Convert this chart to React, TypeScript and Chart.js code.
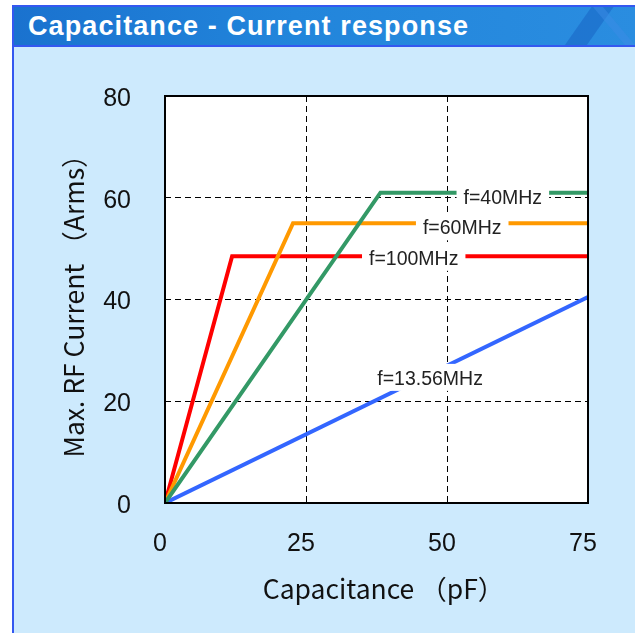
import React, { useEffect, useRef } from "react";
import { Chart, registerables } from "chart.js";

Chart.register(...registerables);

// ---- data ----
const seriesNames = ["f=40MHz", "f=60MHz", "f=100MHz", "f=13.56MHz"];
const xTicks = [0, 25, 50, 75];
const yTicks = [0, 20, 40, 60, 80];
const xTitle = "Capacitance （pF）";
const yTitle = "Max. RF Current （Arms）";
// capacitance (pF) / current (Arms) break points per series
const cap40 = [0, 38.2, 75];
const cur40 = [0, 61, 61];
const cap60 = [0, 22.7, 75];
const cur60 = [0, 55, 55];
const cap100 = [0, 11.9, 75];
const cur100 = [0, 48.5, 48.5];
const cap1356 = [0, 75];
const cur1356 = [0, 40.5];
// label anchors in data units (capacitance, current)
const labelCap = [59.9, 52.7, 44.1, 47.0];
const labelCur = [59.8, 53.9, 47.9, 24.3];

const colors = ["#339966", "#ff9900", "#ff0000", "#3366ff"];

function toPts(xs: number[], ys: number[]) {
  return xs.map((x, i) => ({ x, y: ys[i] }));
}

const chartBgPlugin = {
  id: "chartBg",
  beforeDraw(chart: any) {
    const { ctx, chartArea } = chart;
    ctx.save();
    ctx.fillStyle = "#ffffff";
    ctx.fillRect(chartArea.left, chartArea.top, chartArea.right - chartArea.left, chartArea.bottom - chartArea.top);
    ctx.restore();
  },
  afterDatasetsDraw(chart: any) {
    const { ctx, chartArea, scales } = chart;
    ctx.save();
    ctx.strokeStyle = "#000000";
    ctx.lineWidth = 2;
    ctx.strokeRect(chartArea.left, chartArea.top, chartArea.right - chartArea.left, chartArea.bottom - chartArea.top);
    // series labels
    ctx.font = '19.5px "Liberation Sans", Arial, sans-serif';
    ctx.textAlign = "center";
    ctx.textBaseline = "middle";
    seriesNames.forEach((name, i) => {
      const px = scales.x.getPixelForValue(labelCap[i]);
      const py = scales.y.getPixelForValue(labelCur[i]);
      const w = ctx.measureText(name).width + 14;
      const h = 27;
      ctx.fillStyle = "#ffffff";
      ctx.fillRect(px - w / 2, py - h / 2 - 2, w, h);
      ctx.fillStyle = "#222222";
      ctx.fillText(name, px, py);
    });
    // x axis title
    ctx.font = '26.5px "Noto Sans CJK JP", sans-serif';
    ctx.fillStyle = "#111111";
    ctx.fillText(xTitle, (chartArea.left + chartArea.right) / 2 + 7, chartArea.bottom + 86);
    ctx.restore();
  },
};

function ChartView() {
  const ref = useRef<HTMLCanvasElement | null>(null);
  useEffect(() => {
    if (!ref.current) return;
    const series = [
      toPts(cap40, cur40),
      toPts(cap60, cur60),
      toPts(cap100, cur100),
      toPts(cap1356, cur1356),
    ];
    const chart = new Chart(ref.current, {
      type: "line",
      data: {
        datasets: series.map((d, i) => ({
          label: seriesNames[i],
          data: d,
          borderColor: colors[i],
          backgroundColor: colors[i],
          borderWidth: 4,
          pointRadius: 0,
          tension: 0,
          fill: false,
        })),
      },
      options: {
        animation: false,
        responsive: true,
        maintainAspectRatio: false,
        layout: { padding: { left: 0, top: 45, right: 47, bottom: 0 } },
        plugins: { legend: { display: false }, tooltip: { enabled: false } },
        scales: {
          x: {
            type: "linear",
            min: 0,
            max: 75,
            afterFit(scale: any) {
              scale.height = 130;
            },
            afterBuildTicks(scale: any) {
              scale.ticks = xTicks.map((v) => ({ value: v }));
            },
            grid: { color: "#000000", lineWidth: 1, drawTicks: false },
            border: { display: false, dash: [6, 4] },
            ticks: {
              color: "#111111",
              font: { family: '"Liberation Sans", Arial, sans-serif', size: 25 },
              padding: 26,
              labelOffset: -5,
              maxRotation: 0,
            },
            title: { display: false, text: xTitle },
          },
          y: {
            type: "linear",
            min: 0,
            max: 80,
            afterFit(scale: any) {
              scale.width = 151;
            },
            afterBuildTicks(scale: any) {
              scale.ticks = yTicks.map((v) => ({ value: v }));
            },
            grid: { color: "#000000", lineWidth: 1, drawTicks: false },
            border: { display: false, dash: [6, 4] },
            ticks: {
              color: "#111111",
              font: { family: '"Liberation Sans", Arial, sans-serif', size: 25 },
              padding: 34,
              labelOffset: 3,
            },
            title: {
              display: true,
              text: yTitle,
              color: "#111111",
              font: { family: '"Noto Sans CJK JP", sans-serif', size: 26.5 },
              padding: { top: 44, bottom: 0 },
            },
          },
        },
      },
      plugins: [chartBgPlugin],
    });
    return () => chart.destroy();
  }, []);
  return (
    <div style={{ position: "relative", width: 621, height: 586 }}>
      <canvas ref={ref} />
    </div>
  );
}

export default function App() {
  return (
    <div
      style={{
        position: "fixed",
        left: 0,
        top: 0,
        width: 635,
        height: 633,
        background: "#ffffff",
        overflow: "hidden",
      }}
    >
      <div
        style={{
          position: "absolute",
          left: 12,
          top: 5,
          width: 623,
          height: 628,
          borderLeft: "2px solid #3458f0",
          borderTop: "2px solid #3458f0",
          background: "#cdeafd",
        }}
      >
        <div
          style={{
            position: "relative",
            height: 38,
            borderBottom: "2px solid #3458f0",
            background: "linear-gradient(90deg, #1a72cf 0%, #2285db 45%, #2a8de0 100%)",
            overflow: "hidden",
          }}
        >
          <div
            style={{
              position: "absolute",
              left: 560,
              top: -5,
              width: 22,
              height: 60,
              background: "rgba(20,90,190,0.45)",
              transform: "skewX(-35deg)",
            }}
          />
          <div
            style={{
              position: "absolute",
              left: 600,
              top: -5,
              width: 10,
              height: 60,
              background: "rgba(60,140,230,0.5)",
              transform: "skewX(40deg)",
            }}
          />
          <div
            style={{
              position: "absolute",
              left: 14,
              top: 0,
              height: 38,
              lineHeight: "38px",
              color: "#ffffff",
              fontFamily: '"Liberation Sans", Arial, sans-serif',
              fontWeight: "bold",
              fontSize: 27,
              letterSpacing: 1.1,
              whiteSpace: "nowrap",
            }}
          >
            Capacitance - Current response
          </div>
        </div>
        <ChartView />
      </div>
    </div>
  );
}
